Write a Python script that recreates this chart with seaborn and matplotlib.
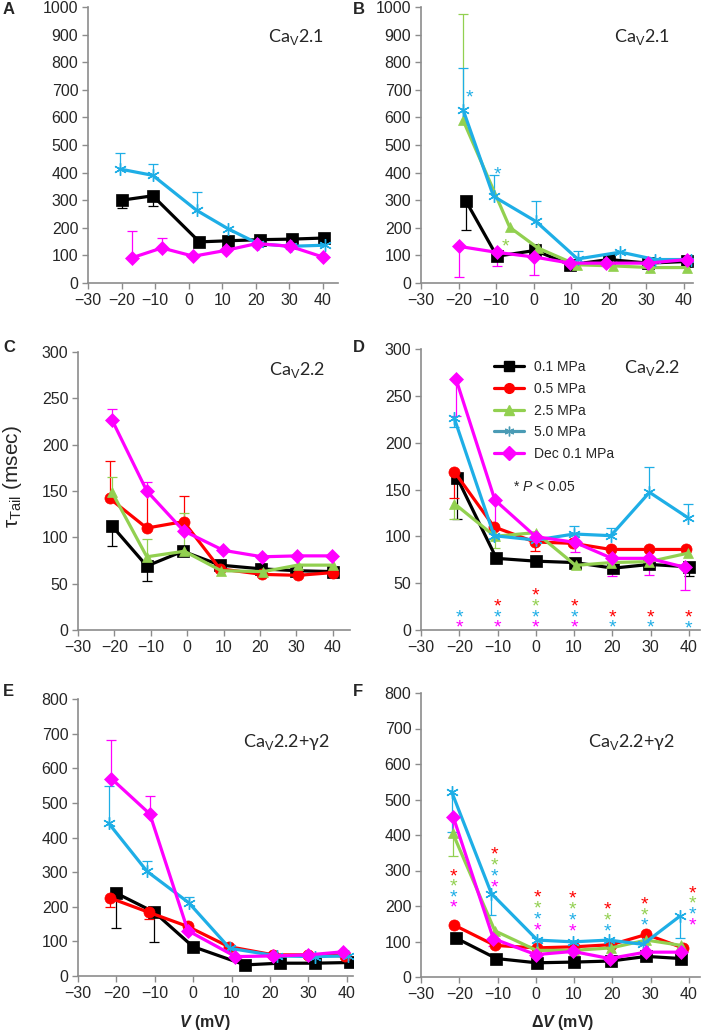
import numpy as np
import pandas as pd
import matplotlib
matplotlib.use('Agg')
import matplotlib.pyplot as plt
from matplotlib.lines import Line2D
import seaborn as sns

# kleuren en markers per reeks
colors = {'black': '#000000', 'red': '#ff0000', 'green': '#92d050',
          'blue': '#1eaee6', 'magenta': '#ff00ff'}
markers = {'black': 's', 'red': 'o', 'green': '^', 'blue': (6, 2, 0), 'magenta': 'D'}
labels = {'black': '0.1 MPa', 'red': '0.5 MPa', 'green': '2.5 MPa',
          'blue': '5.0 MPa', 'magenta': 'Dec 0.1 MPa'}

# ---- data ----
# err: positief = foutbalk omhoog, negatief = omlaag, 0 = geen
# paneel A - CaV2.1, V
A_black_x = [-20, -10.7, 3.2, 11.8, 21.3, 30.7, 40.4]
A_black_y = [300, 316, 149, 153, 157, 159, 163]
A_black_err = [-30, -38, 0, 0, 0, 0, 0]
A_blue_x = [-20.5, -10.7, 2.4, 11.8, 20.8, 30.5, 40.7]
A_blue_y = [413, 390, 263, 196, 142, 133, 137]
A_blue_err = [58, 41, 67, 0, 0, 0, 0]
A_magenta_x = [-17, -8, 1.4, 11, 20.3, 30.2, 40]
A_magenta_y = [91, 127, 97, 118, 143, 133, 94]
A_magenta_err = [99, 36, 0, 0, 0, 0, 0]

# paneel B - CaV2.1, dV
B_black_x = [-18, -9.8, 0.4, 9.7, 20, 30.5, 40.7]
B_black_y = [296, 97, 118, 66, 85, 72, 78]
B_black_err = [-103, 0, 0, 0, 0, 0, 0]
B_green_x = [-18.8, -6.4, 1.1, 11.4, 21.2, 30.9, 40.7]
B_green_y = [590, 202, 127, 66, 62, 56, 56]
B_green_err = [386, 0, 0, 0, 0, 0, 0]
B_blue_x = [-18.8, -10.7, 0.6, 11.7, 23.1, 32.3, 42]
B_blue_y = [628, 314, 223, 87, 112, 85, 85]
B_blue_err = [151, 76, 73, 28, 0, 0, 0]
B_magenta_x = [-20, -9.8, 0.2, 9.7, 19.2, 30.5, 40.7]
B_magenta_y = [133, 111, 94, 72, 72, 72, 85]
B_magenta_err = [-111, -51, -64, 0, 0, 0, 0]
B_star_x = [-17.2, -9.7, -7.6]
B_star_y = [694, 417, 155]
B_star_c = ['blue', 'blue', 'green']

# paneel C - CaV2.2, V
C_black_x = [-20.7, -11.1, -1.2, 9, 20.3, 30, 40.1]
C_black_y = [112.5, 69, 85, 70, 66, 64, 63]
C_black_err = [-22, -16, 0, 0, 0, 0, 0]
C_red_x = [-21.3, -11.1, -1, 9, 20.6, 30.5, 40.1]
C_red_y = [142, 110, 117, 66, 60, 59, 62]
C_red_err = [40, 40, 28, 0, 0, 0, 0]
C_green_x = [-20.7, -11.1, -0.8, 9.3, 20.9, 30.3, 40.1]
C_green_y = [149, 79, 85, 64, 63, 70, 70]
C_green_err = [16, 19, 41, 0, 0, 0, 0]
C_magenta_x = [-20.7, -11.1, -1, 9.9, 20.6, 30.2, 39.8]
C_magenta_y = [227, 150, 107, 86, 79, 80, 80]
C_magenta_err = [11, 10, 0, 0, 0, 0, 0]

# paneel D - CaV2.2, dV
D_black_x = [-20.5, -10.3, 0, 10.2, 20.2, 29.7, 39.9]
D_black_y = [162, 76.5, 73.5, 72, 66, 70, 67.5]
D_black_err = [-44, 0, 0, 0, 0, 0, -10]
D_red_x = [-21.3, -10.9, -0.3, 9.7, 19.6, 29.6, 39.3]
D_red_y = [169, 110, 94, 92.5, 86, 86, 86]
D_red_err = [-28, 0, -10, 0, 0, 0, 0]
D_green_x = [-21.3, -10.7, 0, 10.4, 19.7, 29.7, 39.7]
D_green_y = [135, 100, 104, 69, 72, 73, 82]
D_green_err = [-17, -12, 0, 0, 0, 0, 0]
D_blue_x = [-21.3, -10.9, 0, 10, 19.6, 29.7, 39.7]
D_blue_y = [226, 100.7, 96, 102.5, 100.7, 147, 120]
D_blue_err = [-9, 0, 0, 9, 8, 27, 14]
D_magenta_x = [-20.9, -10.7, 0, 10.2, 19.9, 29.6, 38.9]
D_magenta_y = [268.5, 138.8, 99.6, 93.6, 76.5, 76.5, 67]
D_magenta_err = [-40, -30, 0, -10, -19, -18, -24]
D_star_x = [-20, -20, -10, -10, -10, 0, 0, 0, 0, 10, 10, 10, 20, 20, 30, 30, 40, 40]
D_star_y = [20, 9, 32, 20, 9, 43, 32, 20, 9, 32, 20, 9, 20, 9, 20, 9, 20, 8]
D_star_c = ['blue', 'magenta', 'red', 'blue', 'magenta', 'red', 'green', 'blue', 'magenta',
            'red', 'blue', 'magenta', 'red', 'blue', 'red', 'blue', 'red', 'blue']

# paneel E - CaV2.2+g2, V
E_black_x = [-20, -10.1, -0.1, 13.5, 22.5, 31.7, 40.9]
E_black_y = [239, 184, 85, 32, 37, 37, 39]
E_black_err = [-101, -85, 0, 0, 0, 0, 0]
E_red_x = [-21.6, -11.6, -1.4, 9.2, 20.9, 30, 39.6]
E_red_y = [225, 184, 143, 85, 61, 61, 58]
E_red_err = [-25, -20, 0, 0, 0, 0, 0]
E_blue_x = [-22, -12, -1.2, 9.5, 21.8, 31.7, 40.4]
E_blue_y = [441, 302, 212, 80, 58, 56, 58]
E_blue_err = [108, 31, 15, 0, 0, 0, 0]
E_magenta_x = [-21.3, -11.3, -1.4, 11, 20.9, 30, 39.1]
E_magenta_y = [570, 468, 131, 56, 58, 61, 70]
E_magenta_err = [112, 53, 0, 0, 0, 0, 0]

# paneel F - CaV2.2+g2, dV
F_black_x = [-20.9, -10.3, 0.2, 9.9, 19.6, 28.9, 38]
F_black_y = [110, 52, 40, 42, 45, 58, 52]
F_black_err = [0, 0, 0, 0, 0, 0, 0]
F_red_x = [-21.3, -10.7, 0.2, 9.9, 19.7, 28.9, 38.4]
F_red_y = [146, 89, 82, 85, 91, 120, 82]
F_red_err = [0, 0, 0, 0, 0, 0, 0]
F_green_x = [-21.7, -10.7, 0.2, 9.9, 19.7, 28.9, 38]
F_green_y = [405, 130, 75, 75, 82, 104, 89]
F_green_err = [-65, 0, 0, 0, 0, 0, 0]
F_blue_x = [-22, -11.6, 0.4, 9.7, 19.1, 28, 37.6]
F_blue_y = [522, 235, 104, 99, 104, 92, 171]
F_blue_err = [-113, -61, 0, 0, 0, 0, -61]
F_magenta_x = [-21.6, -11.1, 0, 9.7, 19.3, 28.7, 38]
F_magenta_y = [452, 108, 63, 72, 52, 70, 70]
F_magenta_err = [-57, -20, 0, 0, 0, 0, 0]
F_star_x = [-21.6] * 4 + [-10.9] * 4 + [0.4] * 4 + [9.7] * 4 + [18.7] * 3 + [28.5] * 3 + [41] * 4
F_star_y = [301, 273, 242, 212, 362, 330, 299, 270, 240, 209, 179, 148,
            237, 207, 177, 146, 207, 177, 146, 221, 191, 162, 252, 223, 193, 162]
F_star_c = (['red', 'green', 'blue', 'magenta'] * 4 + ['red', 'green', 'blue'] * 2
            + ['red', 'green', 'blue', 'magenta'])

xticks = [-30, -20, -10, 0, 10, 20, 30, 40]

# tabel voor seaborn
rows = []
for panel in 'ABCDEF':
    for s in ['black', 'red', 'green', 'blue', 'magenta']:
        name = f'{panel}_{s}_x'
        if name not in globals():
            continue
        xs, ys, es = globals()[name], globals()[f'{panel}_{s}_y'], globals()[f'{panel}_{s}_err']
        for i, (x, y, e) in enumerate(zip(xs, ys, es)):
            rows.append({'panel': panel, 'series': s, 'i': i, 'x': x, 'y': y, 'err': e})
df = pd.DataFrame(rows)

sns.set_style('ticks')
plt.rcParams['font.family'] = ['Liberation Sans', 'DejaVu Sans']
plt.rcParams['mathtext.fontset'] = 'custom'
plt.rcParams['mathtext.rm'] = 'Liberation Sans'
plt.rcParams['mathtext.it'] = 'Liberation Sans:italic'
plt.rcParams['mathtext.bf'] = 'Liberation Sans:bold'
plt.rcParams['mathtext.bfit'] = 'Liberation Sans:bold:italic'

W, H = 709, 1035
fig = plt.figure(figsize=(W / 100, H / 100), dpi=100)


def px_rect(l, t, r, b):
    return [l / W, 1 - b / H, (r - l) / W, (b - t) / H]


# (rect in px, xmax, ymax, ystep, titel, titelpositie)
layout = {
    'A': ((88, 7, 338, 283), 44.5, 1000, 100, 'Ca$_{\\mathrm{V}}$2.1', (296, 37)),
    'B': ((421, 7, 693, 283), 42.4, 1000, 100, 'Ca$_{\\mathrm{V}}$2.1', (642, 37)),
    'C': ((78, 352, 350, 630), 44.7, 300, 50, 'Ca$_{\\mathrm{V}}$2.2', (297, 370)),
    'D': ((421, 349, 700, 630), 42.9, 300, 50, 'Ca$_{\\mathrm{V}}$2.2', (652, 368)),
    'E': ((78, 699, 353, 976), 41.6, 800, 100, 'Ca$_{\\mathrm{V}}$2.2+γ2', (286, 742)),
    'F': ((421, 693, 700, 977), 42.9, 800, 100, 'Ca$_{\\mathrm{V}}$2.2+γ2', (631, 742)),
}
letter_pos = {'A': (3, 10), 'B': (353, 9), 'C': (3, 347), 'D': (353, 348),
              'E': (3, 692), 'F': (353, 691)}
axis_grey = '#8c8c8c'
star_fs = 14

for panel, (rect, xmax, ymax, ystep, title, tpos) in layout.items():
    ax = fig.add_axes(px_rect(*rect))
    sub = df[df['panel'] == panel]
    for s in ['black', 'red', 'green', 'blue', 'magenta']:
        d = sub[sub['series'] == s]
        if d.empty:
            continue
        c = colors[s]
        # foutbalken (eenzijdig)
        de = d[d['err'] != 0]
        if not de.empty:
            ax.vlines(de['x'], de['y'], de['y'] + de['err'], color=c, lw=0.9, zorder=1.5)
            ax.plot(de['x'], de['y'] + de['err'], ls='none', marker='_', ms=7,
                    mew=0.9, color=c, zorder=1.5)
        ms = 8 if s in ('black', 'red') else 7
        if s == 'blue':
            ms = 9
        sns.lineplot(data=d, x='x', y='y', ax=ax, color=c, marker=markers[s],
                     markersize=ms, mec=c, mfc=c, mew=1.0 if s == 'blue' else 0.5,
                     linewidth=2.3, sort=False, estimator=None, legend=False)
    # sterretjes
    if f'{panel}_star_x' in globals():
        for x, y, c in zip(globals()[f'{panel}_star_x'], globals()[f'{panel}_star_y'],
                           globals()[f'{panel}_star_c']):
            ax.annotate('*', xy=(x, y), xytext=(0, -0.57 * star_fs),
                        textcoords='offset points', ha='center', va='baseline',
                        fontsize=star_fs, color=colors[c])

    ax.set_xlim(-30, xmax)
    ax.set_ylim(0, ymax)
    ax.set_xticks(xticks)
    ax.set_yticks(np.arange(0, ymax + 1, ystep))
    ax.set_xlabel('')
    ax.set_ylabel('')
    sns.despine(ax=ax)
    for sp in ['left', 'bottom']:
        ax.spines[sp].set_color(axis_grey)
        ax.spines[sp].set_linewidth(1.2)
    ax.tick_params(direction='out', length=4, width=1, color=axis_grey,
                   labelsize=11.5, pad=3)
    fig.text(tpos[0] / W, 1 - tpos[1] / H, title, ha='center', va='center',
             fontsize=13, family=['Lato', 'Open Sans', 'DejaVu Sans'])
    lx, ly = letter_pos[panel]
    fig.text(lx / W, 1 - ly / H, panel, ha='left', va='center', fontsize=12,
             fontweight='bold')

    if panel == 'D':
        handles = []
        for s in ['black', 'red', 'green', 'blue', 'magenta']:
            c = '#4a9bb5' if s == 'blue' else colors[s]
            handles.append(Line2D([], [], color=c, lw=2.3, marker=markers[s],
                                  ms=7, mec=c, mfc=c))
        ax.legend(handles, [labels[s] for s in labels], loc='upper left',
                  bbox_to_anchor=(0.26, 0.96), frameon=False, fontsize=10,
                  handlelength=2.2, handletextpad=0.7, labelspacing=0.55,
                  borderpad=0, borderaxespad=0)
        ax.text(0.33, 0.51, '* $\\mathit{P}$ < 0.05', transform=ax.transAxes,
                ha='left', va='center', fontsize=10)

# as-labels
fig.text(12 / W, 1 - 477 / H, '$\\mathrm{\\tau}_{\\mathrm{Tail}}$ (msec)', rotation=90,
         ha='center', va='center', fontsize=15)
fig.text(205 / W, 1 - 1023 / H, '$\\mathbfit{V}$ (mV)', ha='center', va='center',
         fontsize=11.5, fontweight='bold')
fig.text(563 / W, 1 - 1023 / H, 'Δ$\\mathbfit{V}$ (mV)', ha='center', va='center',
         fontsize=11.5, fontweight='bold')

fig.savefig('out.png', dpi=100)
